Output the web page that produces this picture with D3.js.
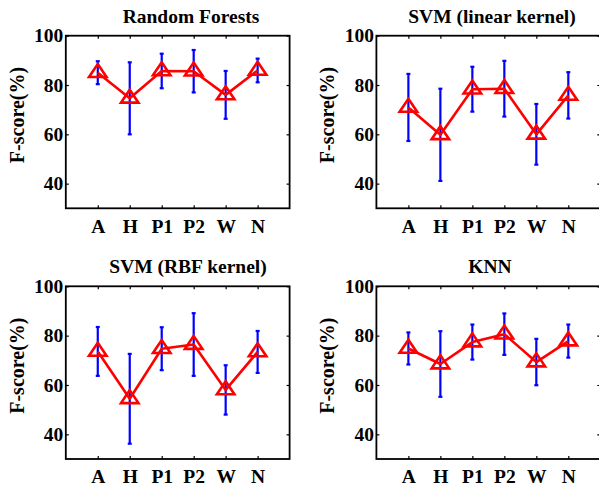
<!DOCTYPE html>
<html><head><meta charset="utf-8">
<script src="https://cdn.jsdelivr.net/npm/d3@7"></script>
<style>body{margin:0;background:#fff}svg{display:block}</style>
</head><body>
<svg id="c" width="599" height="488"></svg>
<script>
const categories = ["A", "H", "P1", "P2", "W", "N"];
const yTicks = [40, 60, 80, 100];
const titles = ["Random Forests", "SVM (linear kernel)", "SVM (RBF kernel)", "KNN"];
const rfMean = [85.0, 74.6, 85.7, 85.6, 76.0, 85.9];
const rfErr = [4.65, 14.6, 7.0, 8.6, 9.7, 4.8];
const svmLinMean = [70.9, 59.8, 78.3, 78.5, 60.0, 75.8];
const svmLinErr = [13.6, 18.7, 9.1, 11.3, 12.3, 9.4];
const svmRbfMean = [73.6, 54.4, 74.7, 76.4, 58.0, 73.4];
const svmRbfErr = [9.9, 18.2, 8.7, 12.7, 10.0, 8.5];
const knnMean = [74.8, 68.5, 77.4, 80.6, 69.3, 77.8];
const knnErr = [6.5, 13.3, 7.1, 8.4, 9.4, 6.7];
const yLabel = "F-score(%)";

const panels = [
  {title: titles[0], mean: rfMean, err: rfErr, x0: 65.8, x1: 289.6, y0: 35.7, y1: 208.3, tx: 191},
  {title: titles[1], mean: svmLinMean, err: svmLinErr, x0: 376.4, x1: 600.3, y0: 35.7, y1: 208.3, tx: 492},
  {title: titles[2], mean: svmRbfMean, err: svmRbfErr, x0: 65.8, x1: 289.6, y0: 286.3, y1: 459, tx: 188},
  {title: titles[3], mean: knnMean, err: knnErr, x0: 376.4, x1: 600.3, y0: 286.3, y1: 459, tx: 490}
];

const svg = d3.select("#c");
const font = "'Liberation Serif','Times New Roman',serif";
const tickLen = 3;

panels.forEach(p => {
  const g = svg.append("g");
  const x = d3.scalePoint().domain(["", ...categories, " "]).range([p.x0, p.x1]);
  const y = d3.scaleLinear().domain([30, 100]).range([p.y1, p.y0]);

  const ax = [
    [d3.axisBottom(x).tickValues(categories).tickSize(-tickLen).tickPadding(10.5), `translate(0,${p.y1})`],
    [d3.axisTop(x).tickValues(categories).tickSize(-tickLen).tickFormat(""), `translate(0,${p.y0})`],
    [d3.axisLeft(y).tickValues(yTicks).tickSize(-tickLen).tickPadding(2.5), `translate(${p.x0},0)`],
    [d3.axisRight(y).tickValues(yTicks).tickSize(-tickLen).tickFormat(""), `translate(${p.x1},0)`]
  ];
  ax.forEach(([a, tr]) => {
    const ag = g.append("g").attr("transform", tr).call(a);
    ag.select(".domain").remove();
    ag.selectAll(".tick line").attr("stroke", "#000").attr("stroke-width", 1.2);
    ag.selectAll(".tick text").attr("font-family", font).attr("font-weight", "bold")
      .attr("font-size", 19.5).attr("fill", "#000");
  });

  g.append("rect").attr("x", p.x0).attr("y", p.y0).attr("width", p.x1 - p.x0).attr("height", p.y1 - p.y0)
    .attr("fill", "none").attr("stroke", "#000").attr("stroke-width", 1.8);

  const eb = g.append("g").attr("stroke", "#0000ff").attr("stroke-width", 2.2).attr("fill", "none");
  categories.forEach((c, i) => {
    const cx = x(c), top = y(p.mean[i] + p.err[i]), bot = y(p.mean[i] - p.err[i]);
    eb.append("line").attr("x1", cx).attr("x2", cx).attr("y1", top).attr("y2", bot);
    eb.append("line").attr("x1", cx - 2).attr("x2", cx + 2).attr("y1", top).attr("y2", top);
    eb.append("line").attr("x1", cx - 2).attr("x2", cx + 2).attr("y1", bot).attr("y2", bot);
  });

  const line = d3.line().x((d, i) => x(categories[i])).y(d => y(d));
  g.append("path").datum(p.mean).attr("d", line).attr("fill", "none")
    .attr("stroke", "#ff0000").attr("stroke-width", 2.6).attr("stroke-linejoin", "round");

  const w = 17.5, h = 13;
  categories.forEach((c, i) => {
    const cx = x(c), cy = y(p.mean[i]);
    g.append("path")
      .attr("d", `M${cx},${cy - 2*h/3} L${cx + w/2},${cy + h/3} L${cx - w/2},${cy + h/3} Z`)
      .attr("fill", "none").attr("stroke", "#ff0000").attr("stroke-width", 2.6).attr("stroke-linejoin", "miter");
  });

  g.append("text").attr("x", p.tx).attr("y", p.y0 - 13).attr("text-anchor", "middle")
    .attr("font-family", font).attr("font-weight", "bold").attr("font-size", 19.5).attr("fill", "#000")
    .text(p.title);

  const lx = p.x0 - 42, ly = (p.y0 + p.y1) / 2 - 7;
  g.append("text").attr("transform", `translate(${lx},${ly}) rotate(-90)`).attr("text-anchor", "middle")
    .attr("font-family", font).attr("font-weight", "bold").attr("font-size", 20).attr("fill", "#000")
    .text(yLabel);
});
</script>
</body></html>
